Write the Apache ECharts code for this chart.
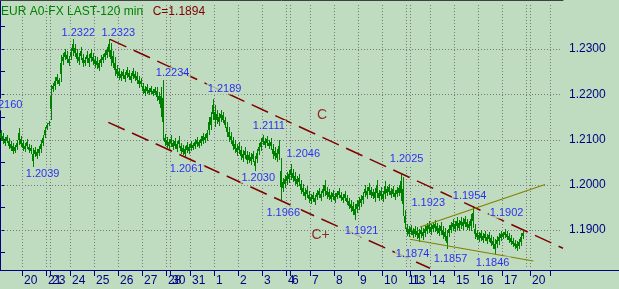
<!DOCTYPE html>
<html><head><meta charset="utf-8">
<script src="https://cdn.jsdelivr.net/npm/echarts@6/dist/echarts.min.js"></script>
<style>html,body{margin:0;padding:0;background:#c0dcc0;}#c{width:619px;height:289px;}</style>
</head><body><div id="c"></div>
<script>
// ---- data ----
const titleMain = 'EUR A0-FX LAST-120 min';
const titleClose = 'C=1.1894';
const barHigh = [
1.2121,1.2114,1.2106,1.2110,1.2103,1.2097,1.2092,1.2088,1.2099,1.2125,
1.2108,1.2099,1.2093,1.2101,1.2090,1.2088,1.2081,1.2084,1.2079,1.2086,
1.2099,1.2110,1.2128,1.2136,1.2141,1.2220,1.2225,1.2238,1.2245,1.2236,
1.2287,1.2292,1.2300,1.2296,1.2285,1.2303,1.2322,1.2310,1.2300,1.2292,
1.2305,1.2290,1.2283,1.2296,1.2288,1.2301,1.2292,1.2285,1.2283,1.2276,
1.2287,1.2290,1.2298,1.2305,1.2323,1.2314,1.2296,1.2283,1.2265,1.2258,
1.2252,1.2256,1.2249,1.2260,1.2254,1.2247,1.2258,1.2251,1.2249,1.2240,
1.2236,1.2225,1.2218,1.2222,1.2214,1.2218,1.2211,1.2216,1.2216,1.2205,
1.2216,1.2231,1.2112,1.2106,1.2101,1.2110,1.2099,1.2104,1.2097,1.2108,
1.2092,1.2088,1.2086,1.2095,1.2090,1.2097,1.2092,1.2101,1.2106,1.2099,
1.2108,1.2115,1.2112,1.2121,1.2150,1.2161,1.2189,1.2176,1.2165,1.2158,
1.2165,1.2161,1.2150,1.2139,1.2128,1.2117,1.2106,1.2099,1.2090,1.2095,
1.2086,1.2077,1.2084,1.2075,1.2072,1.2070,1.2075,1.2064,1.2079,1.2092,
1.2104,1.2111,1.2104,1.2108,1.2099,1.2103,1.2090,1.2084,1.2079,1.2099,
1.2060,1.2015,1.2022,1.2029,1.2033,1.2046,1.2035,1.2029,1.2020,1.2024,
1.2011,1.2002,1.1993,1.1998,1.1987,1.1980,1.1984,1.1978,1.1989,1.1993,
1.1987,1.2000,1.2011,1.1995,1.1991,1.1984,1.1989,1.1982,1.1987,1.1993,
1.1985,1.1980,1.1986,1.1978,1.1971,1.1966,1.1962,1.1957,1.1966,1.1973,
1.1978,1.1984,1.2000,1.1995,1.2004,1.1996,1.1991,1.1993,1.2011,1.1989,
1.1995,1.1986,1.2009,1.1998,1.2002,1.1993,1.1997,1.1989,1.1995,1.2000,
1.2025,1.2018,1.1944,1.1913,1.1908,1.1911,1.1904,1.1909,1.1906,1.1902,
1.1908,1.1904,1.1911,1.1915,1.1920,1.1913,1.1918,1.1923,1.1915,1.1911,
1.1917,1.1909,1.1904,1.1900,1.1911,1.1918,1.1924,1.1920,1.1928,1.1922,
1.1929,1.1926,1.1931,1.1924,1.1920,1.1935,1.1954,1.1913,1.1900,1.1895,
1.1900,1.1893,1.1898,1.1891,1.1896,1.1889,1.1885,1.1880,1.1887,1.1893,
1.1898,1.1896,1.1902,1.1898,1.1894,1.1889,1.1882,1.1878,1.1875,1.1880,
1.1893,1.1899];
const barLow = [
1.2097,1.2090,1.2086,1.2092,1.2079,1.2075,1.2068,1.2070,1.2077,1.2088,
1.2083,1.2075,1.2073,1.2079,1.2070,1.2068,1.2040,1.2062,1.2057,1.2064,
1.2070,1.2086,1.2103,1.2121,1.2130,1.2143,1.2205,1.2209,1.2222,1.2218,
1.2227,1.2265,1.2276,1.2270,1.2263,1.2276,1.2285,1.2283,1.2270,1.2265,
1.2275,1.2261,1.2262,1.2268,1.2260,1.2272,1.2265,1.2258,1.2255,1.2251,
1.2260,1.2268,1.2276,1.2280,1.2283,1.2262,1.2258,1.2240,1.2236,1.2231,
1.2229,1.2233,1.2227,1.2236,1.2231,1.2225,1.2234,1.2229,1.2222,1.2214,
1.2216,1.2201,1.2196,1.2200,1.2198,1.2200,1.2196,1.2199,1.2185,1.2178,
1.2150,1.2099,1.2085,1.2081,1.2079,1.2083,1.2077,1.2079,1.2072,1.2081,
1.2068,1.2066,1.2061,1.2070,1.2068,1.2075,1.2077,1.2079,1.2084,1.2081,
1.2086,1.2090,1.2092,1.2097,1.2110,1.2121,1.2143,1.2128,1.2134,1.2130,
1.2139,1.2136,1.2125,1.2106,1.2095,1.2090,1.2077,1.2070,1.2064,1.2068,
1.2055,1.2050,1.2057,1.2046,1.2048,1.2044,1.2050,1.2030,1.2048,1.2066,
1.2075,1.2088,1.2081,1.2086,1.2079,1.2077,1.2057,1.2055,1.2050,1.2055,
1.1966,1.1985,1.1993,1.2000,1.2004,1.2011,1.2007,1.2000,1.1994,1.1998,
1.1980,1.1975,1.1966,1.1970,1.1960,1.1957,1.1962,1.1955,1.1966,1.1970,
1.1964,1.1973,1.1975,1.1968,1.1966,1.1962,1.1966,1.1960,1.1968,1.1971,
1.1964,1.1960,1.1963,1.1955,1.1946,1.1940,1.1933,1.1921,1.1937,1.1944,
1.1951,1.1957,1.1973,1.1968,1.1977,1.1970,1.1968,1.1962,1.1970,1.1964,
1.1966,1.1962,1.1968,1.1975,1.1978,1.1971,1.1973,1.1966,1.1972,1.1975,
1.1964,1.1930,1.1902,1.1887,1.1885,1.1889,1.1882,1.1884,1.1880,1.1874,
1.1882,1.1878,1.1885,1.1891,1.1893,1.1889,1.1895,1.1896,1.1891,1.1887,
1.1889,1.1880,1.1875,1.1857,1.1885,1.1893,1.1898,1.1895,1.1900,1.1898,
1.1903,1.1900,1.1906,1.1900,1.1897,1.1898,1.1904,1.1880,1.1878,1.1874,
1.1876,1.1871,1.1875,1.1869,1.1873,1.1865,1.1858,1.1846,1.1860,1.1867,
1.1876,1.1880,1.1882,1.1877,1.1871,1.1866,1.1862,1.1858,1.1853,1.1858,
1.1864,1.1880];
const dayTicks  = [11,23,25,35,47,59,71,83,85,95,107,119,131,143,145,155,167,179,191,203,205,215,227,239,251,263,265,275];
const dayLabels = ['20','21','23','24','25','26','27','28','30','31','1','2','3','4','6','7','8','9','10','11','13','14','15','16','17','18','20',''];
const priceTicks = [1.19,1.20,1.21,1.22,1.23];
const minorPriceTicks = [1.185,1.195,1.205,1.215,1.225,1.235];
const channelUpper = [[55,1.23214],[281.5,1.18596]];
const channelLower = [[54.15,1.21380],[215,1.18154]];
const wedgeUpper = [[210,1.19066],[272.5,1.20006]];
const wedgeLower = [[205,1.18795],[266.65,1.18315]];
const annText = ['1.2160','1.2039','1.2322','1.2323','1.2234','1.2189','1.2061','1.2111','1.2046','1.2030','1.2025','1.1966','1.1921','1.1923','1.1954','1.1902','1.1874','1.1857','1.1846'];
const annX    = [11.2,12.4,30.25,50.25,77.4,103.4,84.4,125.9,142.7,120.2,194.4,132.7,171.9,205.2,225.9,244.4,197.4,216.4,237.4];
const annY    = [1.21773,1.20249,1.23365,1.23365,1.22463,1.22127,1.20359,1.21298,1.20680,1.20160,1.20569,1.19387,1.18978,1.19597,1.19751,1.19387,1.18470,1.18359,1.18282];
const waveText = ['C','C+'];
const waveX = [161,160.3];
const waveY = [1.21541,1.18890];
const Y_MIN = 1.18116, Y_MAX = 1.24061, X_MAX = 281.5;

// ---- chart ----
const font = '"Liberation Sans", Arial, sans-serif';
const navy = '#000080';
const green = '#008000';
const dotColor = '#787878';
const labelMap = {};
dayTicks.forEach((t,i)=>{ labelMap[t] = dayLabels[i]; });
const labeledTicks = dayTicks.filter((t,i)=>dayLabels[i] !== '');

const chart = echarts.init(document.getElementById('c'), null, {renderer:'canvas'});
const trend = (d, color, w, type) => ({type:'line', data:d, symbol:'none', silent:true, z:4,
  lineStyle:{color:color, width:w, type:type}, clip:true});

function renderBar(params, api){
  const xv = api.value(0);
  const pHi = api.coord([xv, api.value(1)]);
  const pLo = api.coord([xv, api.value(2)]);
  const cx = Math.floor(pHi[0] + 0.01);
  const top = Math.round(pHi[1]);
  const h = Math.max(1, Math.round(pLo[1]) - top);
  const inner = Math.round(h * 0.3);
  return {type:'group', children:[
    {type:'rect', shape:{x:cx, y:top, width:1, height:h}, style:{fill:green}},
    {type:'rect', shape:{x:cx-1, y:top+inner, width:1, height:Math.max(1, h-2*inner)}, style:{fill:green}}
  ]};
}
// dotted grid: 1px dots every 3px at each day tick / price tick
function renderVGrid(params, api){
  const xv = api.value(0);
  const a = api.coord([xv, Y_MAX]);
  const b = api.coord([xv, Y_MIN]);
  const x = Math.round(a[0]);
  const ch = [];
  for (let y = Math.round(a[1]) + 4; y < b[1] - 1; y += 3) ch.push({type:'rect', shape:{x:x, y:y, width:1, height:1}, style:{fill:dotColor}});
  return {type:'group', children:ch};
}
function renderHGrid(params, api){
  const a = api.coord([0, api.value(1)]);
  const b = api.coord([X_MAX, api.value(1)]);
  const y = Math.round(a[1]);
  const ch = [];
  for (let x = Math.round(a[0]) + 1; x < b[0] - 1; x += 3) ch.push({type:'rect', shape:{x:x, y:y, width:1, height:1}, style:{fill:dotColor}});
  return {type:'group', children:ch};
}

chart.setOption({
  backgroundColor:'#c0dcc0',
  animation:false,
  textStyle:{fontFamily:font},
  title:[
    {text:titleMain, left:1, top:5.5, padding:0, textStyle:{color:'#008000', fontSize:12, fontWeight:'normal', lineHeight:12, fontFamily:font}},
    {text:titleClose, left:152.7, top:5.5, padding:0, textStyle:{color:'#800000', fontSize:12, fontWeight:'normal', lineHeight:12, fontFamily:font}}
  ],
  grid:{left:0, right:56, top:1, bottom:19, containLabel:false},
  xAxis:[{
    type:'value', min:0, max:X_MAX, position:'bottom',
    axisLine:{show:true, lineStyle:{color:navy, width:1}},
    axisTick:{show:true, length:6, customValues:dayTicks, lineStyle:{color:navy}},
    axisLabel:{show:true, customValues:labeledTicks, showMaxLabel:true, showMinLabel:true, hideOverlap:false,
      formatter:v=>labelMap[Math.round(v)]||'', color:navy, fontSize:12, fontFamily:font, align:'left', margin:5, padding:[0,0,0,2]},
    splitLine:{show:false}
  },{
    type:'value', min:0, max:X_MAX, position:'top', offset:1,
    axisLine:{show:true, lineStyle:{color:'#404040', width:1}},
    axisTick:{show:false}, axisLabel:{show:false}, splitLine:{show:false}
  }],
  yAxis:[{
    type:'value', position:'right', min:Y_MIN, max:Y_MAX,
    axisLine:{show:true, lineStyle:{color:navy, width:1}},
    axisTick:{show:true, length:5, customValues:priceTicks, lineStyle:{color:navy}},
    axisLabel:{show:true, customValues:priceTicks, formatter:v=>v.toFixed(4), color:navy, fontSize:12, fontFamily:font, margin:6},
    splitLine:{show:false}
  },{
    type:'value', position:'right', min:Y_MIN, max:Y_MAX,
    axisLine:{show:false},
    axisTick:{show:true, length:5, customValues:minorPriceTicks, lineStyle:{color:navy}},
    axisLabel:{show:false}, splitLine:{show:false}
  }],
  graphic:[{type:'line', shape:{x1:563, y1:270.5, x2:619, y2:270.5}, style:{stroke:navy, lineWidth:1}, silent:true}],
  series:[
    {type:'custom', renderItem:renderVGrid, silent:true, z:1, clip:false,
     data:dayTicks.map(t=>[t, 1.21]), encode:{x:0, y:1}},
    {type:'custom', renderItem:renderHGrid, silent:true, z:1, clip:false,
     data:priceTicks.map(p=>[100, p]), encode:{x:0, y:1}},
    {type:'custom', renderItem:renderBar, silent:true, z:2, clip:true,
     data:barHigh.map((h,i)=>[i+0.5, h, barLow[i]]),
     encode:{x:0, y:[1,2]}},
    trend(channelUpper, '#800000', 1.5, [18,8]),
    trend(channelLower, '#800000', 1.5, [18,8]),
    trend(wedgeUpper, '#808000', 1.2, 'solid'),
    trend(wedgeLower, '#808000', 1.2, 'solid'),
    {type:'scatter', symbolSize:0, silent:true, z:6, clip:false,
     data:annText.map((t,i)=>({value:[annX[i], annY[i]], name:t, label: i===0 ? {position:'left', distance:0, padding:[1,0,0,1]} : undefined})),
     label:{show:true, formatter:p=>p.name, position:'right', distance:0, color:'#0000ff', fontSize:11, fontFamily:font, backgroundColor:'#c0dcc0', padding:[1,1,0,1]}},
    {type:'scatter', symbolSize:0, silent:true, z:6, clip:false,
     data:waveText.map((t,i)=>({value:[waveX[i], waveY[i]], name:t})),
     label:{show:true, formatter:p=>p.name, position:'inside', color:'#800000', fontSize:14, fontFamily:font}}
  ]
});
</script></body></html>
